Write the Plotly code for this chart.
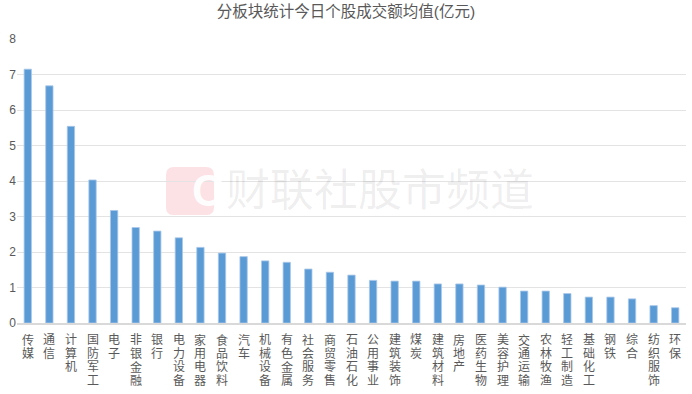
import plotly.graph_objects as go

categories = ["传媒", "通信", "计算机", "国防军工", "电子", "非银金融", "银行", "电力设备",
              "家用电器", "食品饮料", "汽车", "机械设备", "有色金属", "社会服务", "商贸零售",
              "石油石化", "公用事业", "建筑装饰", "煤炭", "建筑材料", "房地产", "医药生物",
              "美容护理", "交通运输", "农林牧渔", "轻工制造", "基础化工", "钢铁", "综合",
              "纺织服饰", "环保"]
values = [7.15, 6.68, 5.54, 4.03, 3.17, 2.69, 2.59, 2.40, 2.13, 1.97, 1.87, 1.75, 1.71,
          1.52, 1.43, 1.35, 1.20, 1.18, 1.18, 1.10, 1.10, 1.07, 1.01, 0.90, 0.90, 0.83,
          0.73, 0.73, 0.68, 0.49, 0.43]
y_ticks = [0, 1, 2, 3, 4, 5, 6, 7, 8]
title_text = "分板块统计今日个股成交额均值(亿元)"
watermark = "财联社股市频道"

CJK = "Liberation Sans, Noto Sans CJK SC"
GRAY = "#595959"

fig = go.Figure(go.Bar(
    x=categories, y=values,
    marker=dict(color="#5B9BD5", line=dict(color="#A9C8EA", width=0.8)),
    hoverinfo="x+y",
))

fig.update_layout(
    width=692, height=394,
    margin=dict(l=17, r=6, t=39, b=71),
    paper_bgcolor="white", plot_bgcolor="white",
    bargap=0.66,
    showlegend=False,
    font=dict(family=CJK, color=GRAY, size=12),
    title=dict(text=title_text, x=0.5, xanchor="center", y=0.985, yanchor="top",
               font=dict(size=15.5, color=GRAY, family=CJK)),
)
fig.update_xaxes(
    showticklabels=False,
    showgrid=False, showline=True, linecolor="#D9D9D9", linewidth=1.5,
    ticks="", range=[-0.5, len(categories) - 0.5], automargin=False,
)
fig.update_yaxes(
    range=[0, 8], tickmode="array", tickvals=y_ticks,
    showgrid=True, gridcolor="#E3E3E3", gridwidth=1, zeroline=False,
    tickfont=dict(size=12, color=GRAY, family="Liberation Sans"),
    ticks="", automargin=False,
)

# vertical (stacked) category labels, one character per line
for cat in categories:
    for k, ch in enumerate(cat):
        fig.add_annotation(x=cat, y=0, xref="x", yref="y", text=ch, showarrow=False,
                           yanchor="middle", xanchor="center", yshift=-(17 + 13.5 * k),
                           borderpad=0,
                           font=dict(size=12, color=GRAY, family=CJK))

# watermark
fig.add_shape(type="path",
              path="M 0.2347 0.549 L 0.2825 0.549 Q 0.2945 0.549 0.2945 0.521 L 0.2945 0.408 Q 0.2945 0.380 0.2825 0.380 L 0.2347 0.380 Q 0.2227 0.380 0.2227 0.408 L 0.2227 0.521 Q 0.2227 0.549 0.2347 0.549 Z",
              xref="paper", yref="paper", fillcolor="rgba(236,90,110,0.18)", line=dict(width=0), layer="below")
fig.add_annotation(text="<b>C</b>", xref="paper", yref="paper", x=0.2586, y=0.465,
                   showarrow=False, font=dict(size=44, color="rgba(255,255,255,0.95)", family="Liberation Sans"))
fig.add_annotation(text=watermark, xref="paper", yref="paper", x=0.3093, y=0.465, xanchor="left",
                   showarrow=False, font=dict(size=44, color="rgba(0,0,0,0.07)", family=CJK))

fig.write_html("out.html", config={"displayModeBar": False},
               post_script="document.body.style.margin='0';document.body.style.overflow='hidden';")
